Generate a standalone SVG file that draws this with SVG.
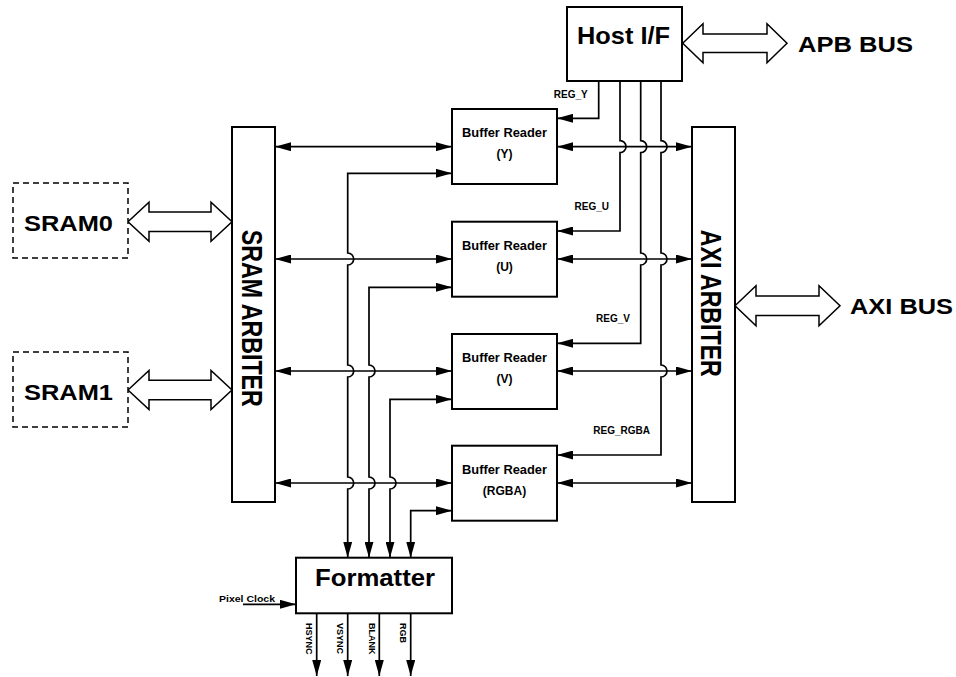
<svg xmlns="http://www.w3.org/2000/svg" width="956" height="677" viewBox="0 0 956 677">
<style>
.bx{fill:#fff;stroke:#000;stroke-width:2}
.ds{fill:#fff;stroke:#000;stroke-width:1.5;stroke-dasharray:6 4}
.ba{fill:#fff;stroke:#000;stroke-width:1.5;stroke-linejoin:miter}
.ln{fill:none;stroke:#000;stroke-width:1.7}
.t{font-family:"Liberation Sans",Arial,sans-serif;font-weight:bold;fill:#000}
.big{font-size:24px}
.mid{font-size:22px}
.br{font-size:12px;text-anchor:middle}
.sm{font-size:10px}
.xs{font-size:9px}
</style>
<defs>
<marker id="ah" viewBox="0 0 16 9" refX="16" refY="4.5" markerWidth="16" markerHeight="9" markerUnits="userSpaceOnUse" orient="auto-start-reverse">
<path d="M0,0 L16,4.5 L0,9 z" fill="#000"/>
</marker>
</defs>
<rect width="956" height="677" fill="#fff"/>

<g id="connectors">
  <!-- block arrows -->
  <polygon class="ba" points="128,221.7 149,202.2 149,212 211,212 211,202.2 232,221.7 211,241.2 211,231.4 149,231.4 149,241.2"/>
  <polygon class="ba" points="128,390 149,370.5 149,380.3 211,380.3 211,370.5 232,390 211,409.5 211,399.7 149,399.7 149,409.5"/>
  <polygon class="ba" points="682.7,43.3 703,23.8 703,34 767,34 767,23.8 787,43.3 767,62.8 767,52.6 703,52.6 703,62.8"/>
  <polygon class="ba" points="735,305.7 756,285.7 756,296 819,296 819,285.7 840,305.7 819,325.7 819,315.4 756,315.4 756,325.7"/>

  <!-- left bidirectional lines SRAM arbiter <-> buffer readers -->
  <line class="ln" x1="275" y1="146.7" x2="452" y2="146.7" marker-start="url(#ah)" marker-end="url(#ah)"/>
  <line class="ln" x1="275" y1="259" x2="452" y2="259" marker-start="url(#ah)" marker-end="url(#ah)"/>
  <line class="ln" x1="275" y1="371" x2="452" y2="371" marker-start="url(#ah)" marker-end="url(#ah)"/>
  <line class="ln" x1="275" y1="483" x2="452" y2="483" marker-start="url(#ah)" marker-end="url(#ah)"/>

  <!-- right bidirectional lines buffer readers <-> AXI arbiter -->
  <line class="ln" x1="557" y1="146.7" x2="692" y2="146.7" marker-start="url(#ah)" marker-end="url(#ah)"/>
  <line class="ln" x1="557" y1="259" x2="692" y2="259" marker-start="url(#ah)" marker-end="url(#ah)"/>
  <line class="ln" x1="557" y1="371" x2="692" y2="371" marker-start="url(#ah)" marker-end="url(#ah)"/>
  <line class="ln" x1="557" y1="483" x2="692" y2="483" marker-start="url(#ah)" marker-end="url(#ah)"/>

  <!-- Host I/F register lines -->
  <path class="ln" d="M598.7,81 V118.3 H557" marker-end="url(#ah)"/>
  <path class="ln" d="M620,81 V140.7 A6,6 0 0 1 620,152.7 V231 H557" marker-end="url(#ah)"/>
  <path class="ln" d="M640.7,81 V140.7 A6,6 0 0 1 640.7,152.7 V253 A6,6 0 0 1 640.7,265 V343.3 H557" marker-end="url(#ah)"/>
  <path class="ln" d="M661,81 V140.7 A6,6 0 0 1 661,152.7 V253 A6,6 0 0 1 661,265 V365 A6,6 0 0 1 661,377 V455 H557" marker-end="url(#ah)"/>

  <!-- buffer readers -> formatter -->
  <path class="ln" d="M452,173.3 H347.7 V253 A6,6 0 0 1 347.7,265 V365 A6,6 0 0 1 347.7,377 V477 A6,6 0 0 1 347.7,489 V557.7" marker-start="url(#ah)" marker-end="url(#ah)"/>
  <path class="ln" d="M452,287.3 H369 V365 A6,6 0 0 1 369,377 V477 A6,6 0 0 1 369,489 V557.7" marker-start="url(#ah)" marker-end="url(#ah)"/>
  <path class="ln" d="M452,399.3 H390 V477 A6,6 0 0 1 390,489 V557.7" marker-start="url(#ah)" marker-end="url(#ah)"/>
  <path class="ln" d="M452,510.7 H410.7 V557.7" marker-start="url(#ah)" marker-end="url(#ah)"/>

  <!-- pixel clock and outputs -->
  <line class="ln" x1="243" y1="604.3" x2="296" y2="604.3" marker-end="url(#ah)"/>
  <line class="ln" x1="316.7" y1="613.3" x2="316.7" y2="676" marker-end="url(#ah)"/>
  <line class="ln" x1="347.7" y1="613.3" x2="347.7" y2="676" marker-end="url(#ah)"/>
  <line class="ln" x1="379.3" y1="613.3" x2="379.3" y2="676" marker-end="url(#ah)"/>
  <line class="ln" x1="410.7" y1="613.3" x2="410.7" y2="676" marker-end="url(#ah)"/>
</g>

<g id="host-if">
  <rect class="bx" x="567" y="7" width="115" height="74"/>
  <text class="t big" x="577" y="44.3" textLength="93" lengthAdjust="spacingAndGlyphs">Host I/F</text>
</g>
<g id="apb-bus">
  <text class="t mid" x="798" y="51.7" textLength="115" lengthAdjust="spacingAndGlyphs">APB BUS</text>
</g>
<g id="axi-bus">
  <text class="t mid" x="850" y="314.3" textLength="103" lengthAdjust="spacingAndGlyphs">AXI BUS</text>
</g>
<g id="sram0">
  <rect class="ds" x="13" y="183" width="115" height="75"/>
  <text class="t mid" x="24" y="231" textLength="89" lengthAdjust="spacingAndGlyphs">SRAM0</text>
</g>
<g id="sram1">
  <rect class="ds" x="13" y="352" width="115" height="75"/>
  <text class="t mid" x="24" y="400" textLength="89" lengthAdjust="spacingAndGlyphs">SRAM1</text>
</g>
<g id="sram-arbiter">
  <rect class="bx" x="232" y="127" width="43" height="375"/>
  <text class="t" style="font-size:22.5px" text-anchor="middle" textLength="177" lengthAdjust="spacingAndGlyphs" transform="translate(241.7,318.3) rotate(90) scale(1,1.3)">SRAM ARBITER</text>
</g>
<g id="axi-arbiter">
  <rect class="bx" x="692" y="127" width="43" height="375"/>
  <text class="t" style="font-size:23px" text-anchor="middle" textLength="147" lengthAdjust="spacingAndGlyphs" transform="translate(701,303.3) rotate(90) scale(1,1.25)">AXI ARBITER</text>
</g>
<g id="buffer-reader-y">
  <rect class="bx" x="452" y="109" width="105" height="75"/>
  <text class="t br" x="504.5" y="137.3" textLength="85" lengthAdjust="spacingAndGlyphs">Buffer Reader</text>
  <text class="t br" x="504.5" y="158">(Y)</text>
</g>
<g id="buffer-reader-u">
  <rect class="bx" x="452" y="221.7" width="105" height="75"/>
  <text class="t br" x="504.5" y="250" textLength="85" lengthAdjust="spacingAndGlyphs">Buffer Reader</text>
  <text class="t br" x="504.5" y="270.7">(U)</text>
</g>
<g id="buffer-reader-v">
  <rect class="bx" x="452" y="334" width="105" height="75"/>
  <text class="t br" x="504.5" y="362.3" textLength="85" lengthAdjust="spacingAndGlyphs">Buffer Reader</text>
  <text class="t br" x="504.5" y="383">(V)</text>
</g>
<g id="buffer-reader-rgba">
  <rect class="bx" x="452" y="445.7" width="105" height="75"/>
  <text class="t br" x="504.5" y="474" textLength="85" lengthAdjust="spacingAndGlyphs">Buffer Reader</text>
  <text class="t br" x="504.5" y="494.7">(RGBA)</text>
</g>
<g id="formatter">
  <rect class="bx" x="296" y="557.7" width="156" height="55.6"/>
  <text class="t" style="font-size:24.5px" x="315" y="586" textLength="120" lengthAdjust="spacingAndGlyphs">Formatter</text>
</g>
<g id="labels">
  <text class="t sm" x="587.7" y="97.5" text-anchor="end">REG_Y</text>
  <text class="t sm" x="609" y="210" text-anchor="end">REG_U</text>
  <text class="t sm" x="630" y="322" text-anchor="end">REG_V</text>
  <text class="t sm" x="650" y="434" text-anchor="end">REG_RGBA</text>
  <text class="t xs" x="219" y="601.7" textLength="56" lengthAdjust="spacingAndGlyphs">Pixel Clock</text>
  <text class="t xs" transform="translate(306.2,623) rotate(90)">HSYNC</text>
  <text class="t xs" transform="translate(337.2,623) rotate(90)">VSYNC</text>
  <text class="t xs" transform="translate(368.8,623) rotate(90)">BLANK</text>
  <text class="t xs" transform="translate(400.2,623) rotate(90)">RGB</text>
</g>
</svg>
